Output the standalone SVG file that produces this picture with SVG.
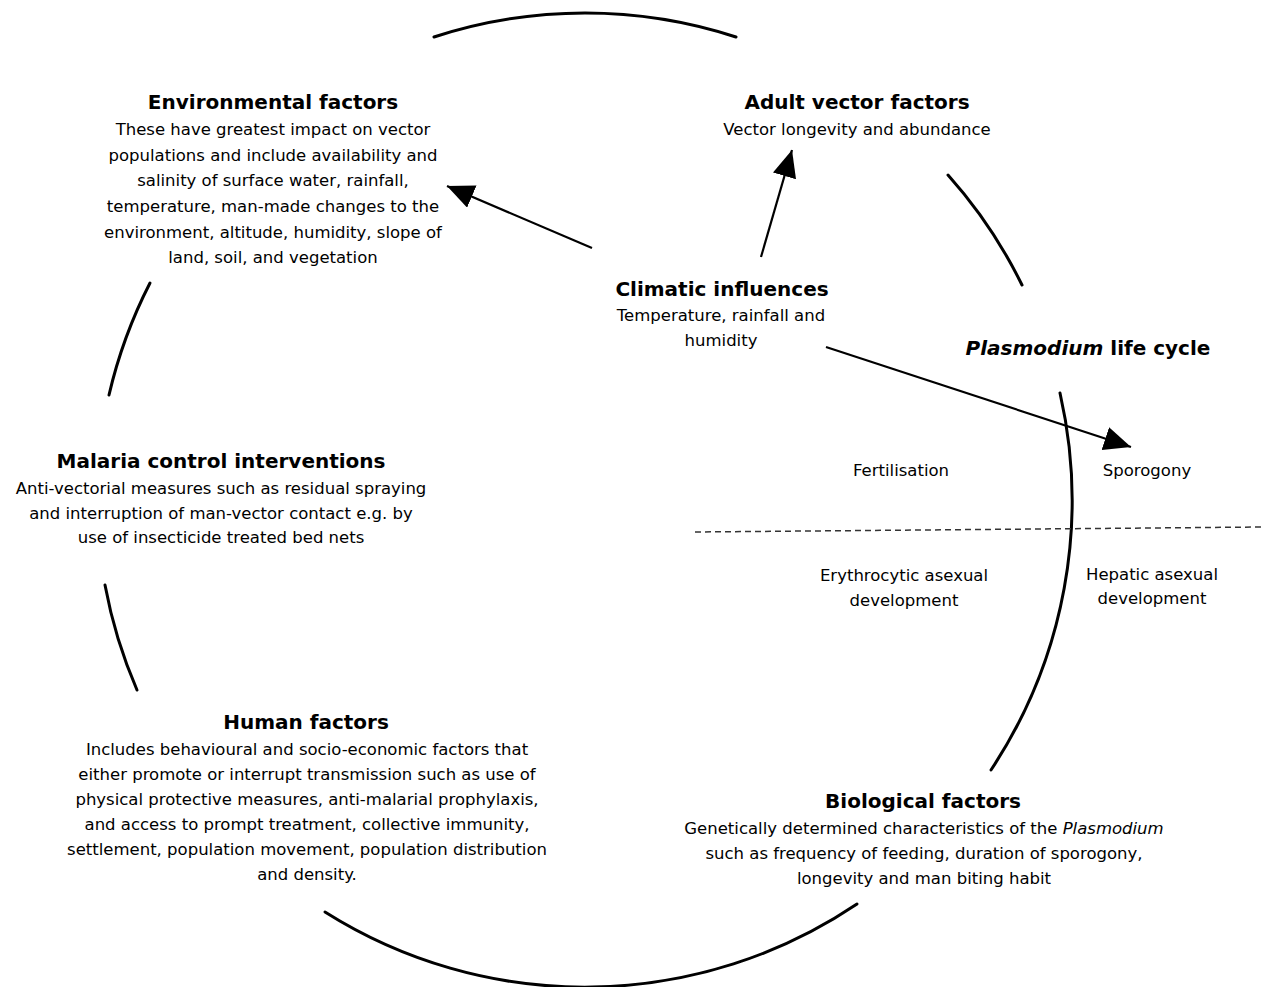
<svg xmlns="http://www.w3.org/2000/svg" width="1263" height="987" viewBox="0 0 1263 987">
<style>
text{font-family:"DejaVu Sans","Liberation Sans",sans-serif;fill:#000;text-anchor:middle}
.t{font-size:20px;font-weight:bold}
.b{font-size:16.5px}
.arc{fill:none;stroke:#000;stroke-width:3;stroke-linecap:round}
.arr{fill:none;stroke:#000;stroke-width:2.2}
</style>
<defs>
<marker id="ah" markerUnits="userSpaceOnUse" markerWidth="30" markerHeight="26" refX="27" refY="12" orient="auto">
<path d="M0,0 L27,12 L0,24 Z" fill="#000"/>
</marker>
</defs>
<rect width="1263" height="987" fill="#fff"/>
<g id="circle">
<path class="arc" d="M434,37 A487,487 0 0 1 736,37"/>
<path class="arc" d="M948,175 A487,487 0 0 1 1022,285"/>
<path class="arc" d="M1060,393 A487,487 0 0 1 991,770"/>
<path class="arc" d="M857,904 A487,487 0 0 1 325,912"/>
<path class="arc" d="M137,690 A487,487 0 0 1 105,585"/>
<path class="arc" d="M109,395 A487,487 0 0 1 150,283"/>
</g>
<g id="connectors">
<line class="arr" x1="592" y1="248" x2="447" y2="186" marker-end="url(#ah)"/>
<line class="arr" x1="761" y1="257" x2="792" y2="150" marker-end="url(#ah)"/>
<line class="arr" x1="826" y1="347" x2="1131" y2="447" marker-end="url(#ah)"/>
<line x1="695" y1="532" x2="1263" y2="527" stroke="#333" stroke-width="1.5" stroke-dasharray="6,4"/>
</g>
<g id="environmental">
<text class="t" x="273" y="109">Environmental factors</text>
<text class="b" x="273" y="135">These have greatest impact on vector</text>
<text class="b" x="273" y="161">populations and include availability and</text>
<text class="b" x="273" y="186">salinity of surface water, rainfall,</text>
<text class="b" x="273" y="212">temperature, man-made changes to the</text>
<text class="b" x="273" y="238">environment, altitude, humidity, slope of</text>
<text class="b" x="273" y="263">land, soil, and vegetation</text>
</g>
<g id="adult">
<text class="t" x="857" y="109">Adult vector factors</text>
<text class="b" x="857" y="135">Vector longevity and abundance</text>
</g>
<g id="climatic">
<text class="t" x="722" y="296">Climatic influences</text>
<text class="b" x="721" y="321">Temperature, rainfall and</text>
<text class="b" x="721" y="346">humidity</text>
</g>
<g id="plasmodium">
<text class="t" x="1088" y="355"><tspan font-style="italic">Plasmodium</tspan> life cycle</text>
<text class="b" x="901" y="476">Fertilisation</text>
<text class="b" x="1147" y="476">Sporogony</text>
<text class="b" x="904" y="581">Erythrocytic asexual</text>
<text class="b" x="904" y="606">development</text>
<text class="b" x="1152" y="580">Hepatic asexual</text>
<text class="b" x="1152" y="604">development</text>
</g>
<g id="malaria">
<text class="t" x="221" y="468">Malaria control interventions</text>
<text class="b" x="221" y="494">Anti-vectorial measures such as residual spraying</text>
<text class="b" x="221" y="519">and interruption of man-vector contact e.g. by</text>
<text class="b" x="221" y="543">use of insecticide treated bed nets</text>
</g>
<g id="human">
<text class="t" x="306" y="729">Human factors</text>
<text class="b" x="307" y="755">Includes behavioural and socio-economic factors that</text>
<text class="b" x="307" y="780">either promote or interrupt transmission such as use of</text>
<text class="b" x="307" y="805">physical protective measures, anti-malarial prophylaxis,</text>
<text class="b" x="307" y="830">and access to prompt treatment, collective immunity,</text>
<text class="b" x="307" y="855">settlement, population movement, population distribution</text>
<text class="b" x="307" y="880">and density.</text>
</g>
<g id="biological">
<text class="t" x="923" y="808">Biological factors</text>
<text class="b" x="924" y="834">Genetically determined characteristics of the <tspan font-style="italic">Plasmodium</tspan></text>
<text class="b" x="924" y="859">such as frequency of feeding, duration of sporogony,</text>
<text class="b" x="924" y="884">longevity and man biting habit</text>
</g>
</svg>
